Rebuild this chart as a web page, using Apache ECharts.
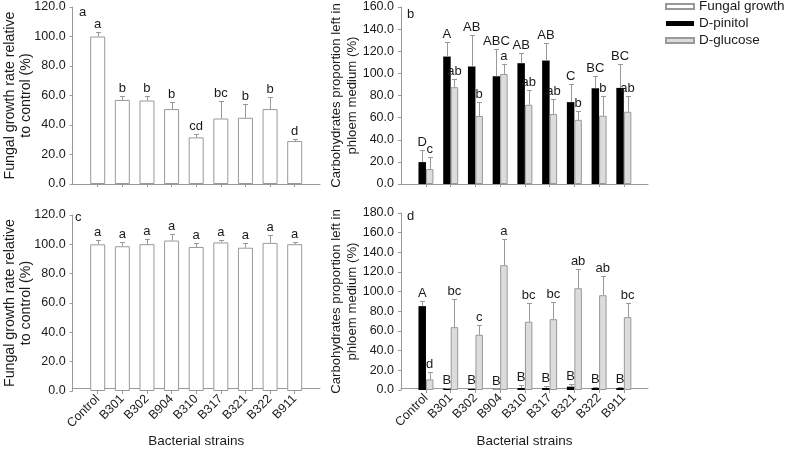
<!DOCTYPE html>
<html><head><meta charset="utf-8">
<script src="https://cdn.jsdelivr.net/npm/echarts@6/dist/echarts.min.js"></script>
<style>html,body{margin:0;padding:0;background:#fff}#c{width:787px;height:449px}</style>
</head><body><div id="c"></div>
<script>
const categories = ['Control','B301','B302','B904','B310','B317','B321','B322','B911'];
// panel a
const growthA = [100, 57, 56.6, 50.8, 31.6, 44.4, 44.9, 50.8, 29.1];
const growthAErr = [3, 3, 3.4, 5, 2.3, 11.7, 9, 8.3, 1.4];
const growthALetters = ['a','b','b','b','cd','bc','b','b','d'];
// panel b
const pinitolB = [19.8, 115.2, 106.2, 97.4, 109.2, 111.6, 74, 86.6, 86.9];
const pinitolBErr = [10.6, 13, 28.5, 25, 9, 15.6, 16, 10.8, 21.7];
const pinitolBLetters = ['D','A','AB','ABC','AB','AB','C','BC','BC'];
const glucoseB = [13.5, 87.5, 61.4, 99.5, 71.6, 63.2, 58, 61.7, 65.3];
const glucoseBErr = [11.2, 7.8, 12.6, 9, 13.2, 13.5, 7.9, 18.3, 14.7];
const glucoseBLetters = ['c','ab','b','a','ab','ab','b','b','ab'];
// panel c
const growthC = [100, 98.7, 100.1, 102.6, 98.2, 101.3, 97.7, 101.0, 100.1];
const growthCErr = [3, 2.8, 3.2, 4.3, 2.9, 1.9, 2.9, 5.7, 1.8];
const growthCLetters = ['a','a','a','a','a','a','a','a','a'];
// panel d
const pinitolD = [85.3, 1.5, 1, 0.5, 2, 2, 3.4, 2, 2];
const pinitolDErr = [5, 1, 1, 1, 3, 2, 2.3, 1.5, 1.5];
const pinitolDLetters = ['A','B','B','B','B','B','B','B','B'];
const glucoseD = [10.8, 63.9, 56.2, 126.9, 69.4, 72, 103.5, 96.4, 74.1];
const glucoseDErr = [7, 28.4, 9.5, 26.7, 18.9, 17.6, 20, 19.3, 14.5];
const glucoseDLetters = ['d','bc','c','a','bc','bc','ab','ab','bc'];

const FONT = 'Liberation Sans, Arial, sans-serif';
const TXT = '#1a1a1a';
const AX = '#999';

function errSeries(name, xi, vals, errs, letters, offset) {
  return {
    type: 'custom', name: name, xAxisIndex: xi, yAxisIndex: xi, z: 5,
    data: vals.map((v, i) => [i, v, errs[i]]),
    renderItem: function (params, api) {
      const i = api.value(0), v = api.value(1), e = api.value(2);
      const b = api.coord([i, v]);
      const t = api.coord([i, v + e]);
      const x = Math.round(b[0] + offset) + 0.5;
      const ty = Math.round(t[1]) + 0.5;
      return { type: 'group', children: [
        { type: 'line', shape: { x1: x, y1: b[1], x2: x, y2: ty }, style: { stroke: AX, lineWidth: 1 } },
        { type: 'line', shape: { x1: x - 2.5, y1: ty, x2: x + 2.5, y2: ty }, style: { stroke: AX, lineWidth: 1 } },
        { type: 'text', x: b[0] + offset, y: ty - 2, style: { text: letters[i], align: 'center', verticalAlign: 'bottom', fontFamily: FONT, fontSize: 13, fill: TXT } }
      ]};
    }
  };
}

const grids = [
  { left: 85.4, width: 221.6, top: 7, height: 177 },
  { left: 72.6, width: 247.4, top: 7, height: 177 },
  { left: 413.6, width: 222.6, top: 7, height: 177 },
  { left: 401, width: 247, top: 7, height: 177 },
  { left: 85.4, width: 221.6, top: 215, height: 176 },
  { left: 72.6, width: 247.4, top: 215, height: 176 },
  { left: 413.6, width: 222.6, top: 213, height: 177 },
  { left: 401, width: 247, top: 213, height: 177 }
];

function catAxis(gi, showLabels) {
  return {
    type: 'category', gridIndex: gi, data: categories, boundaryGap: true,
    axisLine: { show: false },
    axisTick: { show: true, alignWithLabel: true, length: 3, lineStyle: { color: AX } },
    axisLabel: { show: showLabels, rotate: 45, interval: 0, margin: 6, fontFamily: FONT, fontSize: 12.5, color: TXT },
    splitLine: { show: false }
  };
}
function lineAxis(gi, showName) {
  return {
    type: 'category', gridIndex: gi, data: [''],
    axisLine: { show: true, lineStyle: { color: AX, width: 1 } },
    axisTick: { show: false }, axisLabel: { show: false }, splitLine: { show: false },
    name: showName ? 'Bacterial strains' : '', nameLocation: 'middle', nameGap: 46, nameMoveOverlap: false,
    nameTextStyle: { fontFamily: FONT, fontSize: 13.5, color: TXT }
  };
}
function valAxis(gi, max, offset, name, gap, nameSize) {
  return {
    type: 'value', gridIndex: gi, min: 0, max: max, interval: 20, offset: offset,
    axisLine: { show: true, lineStyle: { color: AX, width: 1 } },
    axisTick: { show: true, length: 3, lineStyle: { color: AX } },
    axisLabel: { margin: 7, fontFamily: FONT, fontSize: 12.5, color: TXT, formatter: v => v.toFixed(1) },
    splitLine: { show: false },
    name: name, nameLocation: 'middle', nameGap: gap, nameMoveOverlap: false,
    nameTextStyle: { fontFamily: FONT, fontSize: nameSize, color: TXT, lineHeight: 15.5, align: 'center' }
  };
}
function hidY(gi) { return { type: 'value', gridIndex: gi, min: 0, max: 1, show: false }; }

const nameA = 'Fungal growth rate relative\nto control (%)';
const nameB = 'Carbohydrates proportion left in\nphloem medium (%)';

const xAxes = [catAxis(0, false), lineAxis(1, false), catAxis(2, false), lineAxis(3, false),
               catAxis(4, true), lineAxis(5, true), catAxis(6, true), lineAxis(7, true)];
const yAxes = [valAxis(0, 120, 12.8, nameA, 39, 14.2), hidY(1), valAxis(2, 160, 12.6, nameB, 41, 13.2), hidY(3),
               valAxis(4, 120, 12.8, nameA, 39, 14.2), hidY(5), valAxis(6, 180, 12.6, nameB, 41, 13.2), hidY(7)];

const whiteStyle = { color: '#ffffff', borderColor: '#999', borderWidth: 1 };
const blackStyle = { color: '#000000', borderColor: '#000', borderWidth: 0 };
const grayStyle = { color: '#dcdcdc', borderColor: '#999', borderWidth: 1 };

const series = [
  { type: 'bar', name: 'Fungal growth', xAxisIndex: 0, yAxisIndex: 0, data: growthA, barWidth: 15, itemStyle: whiteStyle },
  errSeries('errA', 0, growthA, growthAErr, growthALetters, 0),
  { type: 'bar', name: 'D-pinitol', xAxisIndex: 2, yAxisIndex: 2, data: pinitolB, barWidth: 7.5, barGap: '0%', itemStyle: blackStyle },
  { type: 'bar', name: 'D-glucose', xAxisIndex: 2, yAxisIndex: 2, data: glucoseB, barWidth: 7.5, barGap: '0%', itemStyle: grayStyle },
  errSeries('errB1', 2, pinitolB, pinitolBErr, pinitolBLetters, -3.75),
  errSeries('errB2', 2, glucoseB, glucoseBErr, glucoseBLetters, 3.75),
  { type: 'bar', name: 'Fungal growth', xAxisIndex: 4, yAxisIndex: 4, data: growthC, barWidth: 15, itemStyle: whiteStyle },
  errSeries('errC', 4, growthC, growthCErr, growthCLetters, 0),
  { type: 'bar', name: 'D-pinitol', xAxisIndex: 6, yAxisIndex: 6, data: pinitolD, barWidth: 7.5, barGap: '0%', itemStyle: blackStyle },
  { type: 'bar', name: 'D-glucose', xAxisIndex: 6, yAxisIndex: 6, data: glucoseD, barWidth: 7.5, barGap: '0%', itemStyle: grayStyle },
  errSeries('errD1', 6, pinitolD, pinitolDErr, pinitolDLetters, -3.75),
  errSeries('errD2', 6, glucoseD, glucoseDErr, glucoseDLetters, 3.75)
];

const chart = echarts.init(document.getElementById('c'), null, { renderer: 'canvas' });
chart.setOption({
  animation: false,
  backgroundColor: '#fff',
  grid: grids,
  xAxis: xAxes,
  yAxis: yAxes,
  legend: {
    data: ['Fungal growth', 'D-pinitol', 'D-glucose'],
    orient: 'vertical', left: 665, top: -1, padding: 0, icon: 'rect', itemWidth: 28, itemHeight: 5, itemGap: 2,
    textStyle: { fontFamily: FONT, fontSize: 13.5, color: TXT, lineHeight: 15 }
  },
  graphic: [
    { type: 'text', left: 79, top: 6, style: { text: 'a', fontFamily: FONT, fontSize: 13, fill: TXT } },
    { type: 'text', left: 407, top: 8, style: { text: 'b', fontFamily: FONT, fontSize: 13, fill: TXT } },
    { type: 'text', left: 75, top: 211, style: { text: 'c', fontFamily: FONT, fontSize: 13, fill: TXT } },
    { type: 'text', left: 407, top: 210, style: { text: 'd', fontFamily: FONT, fontSize: 13, fill: TXT } }
  ],
  series: series
});
</script></body></html>
